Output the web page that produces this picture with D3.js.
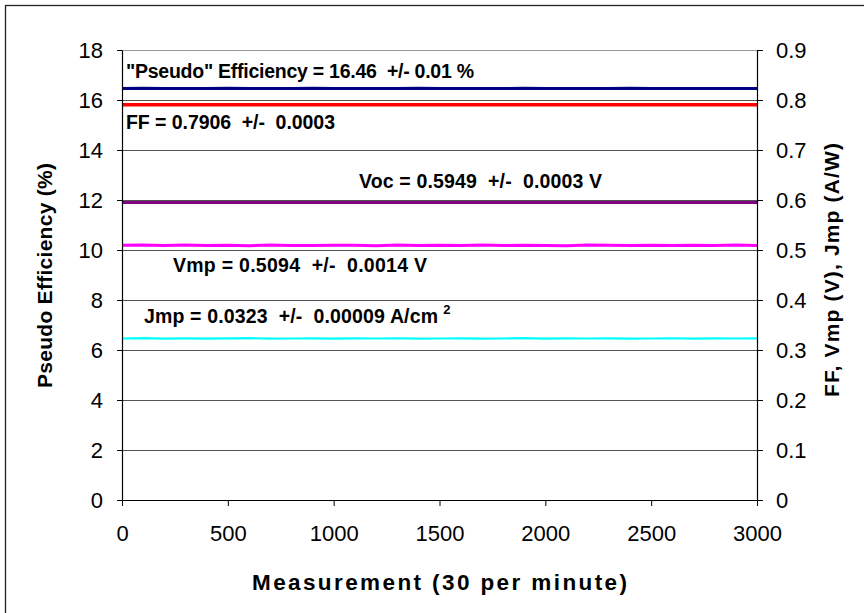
<!DOCTYPE html>
<html>
<head>
<meta charset="utf-8">
<script src="https://cdn.jsdelivr.net/npm/d3@7/dist/d3.min.js"></script>
<style>
  html, body { margin: 0; padding: 0; background: #fff; }
  svg { display: block; font-family: "Liberation Sans", Arial, sans-serif; }
</style>
</head>
<body>
<svg id="chart" width="864" height="613"></svg>
<script>
// ---- data ----
const measurement = [0,100,200,300,400,500,600,700,800,900,1000,1100,1200,1300,1400,1500,
  1600,1700,1800,1900,2000,2100,2200,2300,2400,2500,2600,2700,2800,2900,3000];
// left axis: pseudo efficiency (%)
const efficiency = [16.46,16.47,16.46,16.46,16.46,16.47,16.46,16.46,16.46,16.47,16.46,16.46,16.46,16.46,
  16.47,16.46,16.46,16.46,16.46,16.47,16.46,16.46,16.46,16.46,16.47,16.46,16.46,16.46,16.46,16.46,16.46];
// right axis
const ff = [0.7906,0.7906,0.7907,0.7906,0.7905,0.7906,0.7906,0.7906,0.7907,0.7906,0.7906,0.7906,0.7905,0.7906,
  0.7906,0.7906,0.7906,0.7907,0.7906,0.7906,0.7906,0.7905,0.7906,0.7906,0.7906,0.7906,0.7907,0.7906,0.7906,0.7906,0.7906];
const voc = [0.5949,0.5950,0.5949,0.5949,0.5948,0.5949,0.5949,0.5950,0.5949,0.5949,0.5949,0.5948,0.5949,0.5949,
  0.5950,0.5949,0.5949,0.5949,0.5948,0.5949,0.5949,0.5949,0.5950,0.5949,0.5949,0.5949,0.5948,0.5949,0.5949,0.5949,0.5949];
const vmp = [0.5094,0.5102,0.5088,0.5098,0.5090,0.5096,0.5086,0.5100,0.5092,0.5089,0.5097,0.5093,0.5087,0.5101,
  0.5091,0.5095,0.5088,0.5099,0.5090,0.5096,0.5092,0.5087,0.5098,0.5093,0.5089,0.5097,0.5091,0.5095,0.5088,0.5099,0.5092];
const jmp = [0.3230,0.3236,0.3228,0.3233,0.3229,0.3231,0.3237,0.3229,0.3230,0.3234,0.3228,0.3231,0.3230,0.3235,
  0.3229,0.3230,0.3233,0.3228,0.3230,0.3236,0.3229,0.3231,0.3230,0.3234,0.3228,0.3230,0.3235,0.3229,0.3231,0.3230,0.3233];

const xTicks = [0,500,1000,1500,2000,2500,3000];
const leftTicks = [0,2,4,6,8,10,12,14,16,18];
const rightTicks = [0,0.1,0.2,0.3,0.4,0.5,0.6,0.7,0.8,0.9];

const annotations = [
  { text: "\"Pseudo\" Efficiency = 16.46  +/- 0.01 %" },
  { text: "FF = 0.7906  +/-  0.0003" },
  { text: "Voc = 0.5949  +/-  0.0003 V" },
  { text: "Vmp = 0.5094  +/-  0.0014 V" },
  { text: "Jmp = 0.0323  +/-  0.00009 A/cm", sup: "2" }
];

// ---- layout ----
const svg = d3.select("#chart");
const L = 122, R = 757, T = 50, B = 500;
const x = d3.scaleLinear().domain([0, 3000]).range([L, R]);
const yL = d3.scaleLinear().domain([0, 18]).range([B, T]);
const yR = d3.scaleLinear().domain([0, 0.9]).range([B, T]);

// outer chart border
svg.append("rect").attr("x", 5.5).attr("y", 5.5).attr("width", 1000).attr("height", 1000)
  .attr("fill", "none").attr("stroke", "#222").attr("stroke-width", 1.3);

// gridlines
svg.append("g").selectAll("line").data(leftTicks.filter(d => d > 0)).join("line")
  .attr("x1", L).attr("x2", R)
  .attr("y1", d => Math.round(yL(d)) + 0.5).attr("y2", d => Math.round(yL(d)) + 0.5)
  .attr("stroke", d => d === 18 ? "#999" : "#555").attr("stroke-width", 1);

// series lines
const lineL = d3.line().x((d, i) => x(measurement[i])).y(d => yL(d));
const lineR = d3.line().x((d, i) => x(measurement[i])).y(d => yR(d));
const series = [
  { vals: efficiency, gen: lineL, color: "#000080", w: 3 },
  { vals: ff, gen: lineR, color: "#ff0000", w: 3.5 },
  { vals: voc, gen: lineR, color: "#800080", w: 3 },
  { vals: vmp, gen: lineR, color: "#ff00ff", w: 3 },
  { vals: jmp, gen: lineR, color: "#00ffff", w: 2.2 }
];
svg.append("g").selectAll("path").data(series).join("path")
  .attr("d", d => d.gen(d.vals))
  .attr("fill", "none").attr("stroke", d => d.color).attr("stroke-width", d => d.w);

// axes
const tickFont = g => g.selectAll("text")
  .attr("font-size", 22).attr("fill", "#000")
  .attr("font-family", "'Liberation Sans', Arial, sans-serif");
const axisStyle = g => {
  g.select(".domain").attr("stroke", "#000").attr("stroke-width", 1.2);
  g.selectAll(".tick line").attr("stroke", "#000").attr("stroke-width", 1);
};

svg.append("g").attr("transform", `translate(${L},0)`)
  .call(d3.axisLeft(yL).tickValues(leftTicks).tickFormat(d3.format("d")).tickSize(5).tickSizeOuter(0).tickPadding(14))
  .call(axisStyle).call(tickFont);

svg.append("g").attr("transform", `translate(${R},0)`)
  .call(d3.axisRight(yR).tickValues(rightTicks).tickFormat(d => d === 0 ? "0" : d3.format(".1f")(d)).tickSize(6).tickSizeOuter(0).tickPadding(13))
  .call(axisStyle).call(tickFont);

svg.append("g").attr("transform", `translate(0,${B})`)
  .call(d3.axisBottom(x).tickValues(xTicks).tickFormat(d3.format("d")).tickSize(6).tickSizeOuter(0).tickPadding(19))
  .call(axisStyle).call(tickFont);

// axis titles
svg.append("text").attr("x", 252).attr("y", 590)
  .attr("font-size", 22.5).attr("font-weight", "bold")
  .attr("textLength", 375).attr("lengthAdjust", "spacing")
  .text("Measurement (30 per minute)");

svg.append("text").attr("transform", "translate(52,388) rotate(-90)")
  .attr("font-size", 21).attr("font-weight", "bold")
  .attr("textLength", 225).attr("lengthAdjust", "spacing")
  .text("Pseudo Efficiency (%)");

svg.append("text").attr("transform", "translate(839,397) rotate(-90)")
  .attr("font-size", 21).attr("font-weight", "bold")
  .attr("textLength", 254).attr("lengthAdjust", "spacing")
  .text("FF, Vmp (V), Jmp (A/W)");

// annotations
const annPos = [[126, 78, 348], [126, 129, 209], [359, 188, 243], [173, 272, 254], [144, 323, 294]];
annotations.forEach((a, i) => {
  const t = svg.append("text").attr("x", annPos[i][0]).attr("y", annPos[i][1])
    .attr("font-size", 19.5).attr("font-weight", "bold").attr("xml:space", "preserve")
    .style("white-space", "pre");
  t.append("tspan").attr("textLength", annPos[i][2]).attr("lengthAdjust", "spacing").text(a.text);
  if (a.sup) {
    t.append("tspan").attr("dx", 5).attr("dy", -9).attr("font-size", 13).text(a.sup);
  }
});
</script>
</body>
</html>
